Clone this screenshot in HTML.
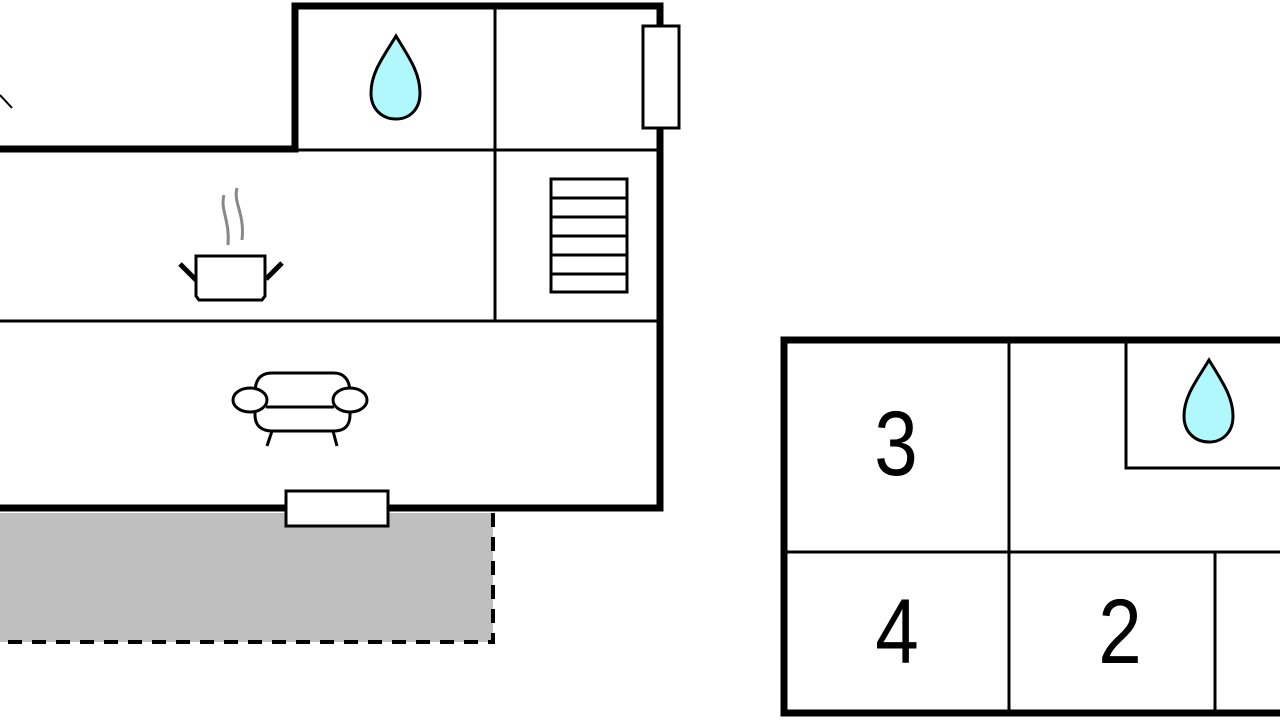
<!DOCTYPE html>
<html><head><meta charset="utf-8"><style>html,body{margin:0;padding:0;background:#fff;width:1280px;height:720px;overflow:hidden}</style></head>
<body>
<svg width="1280" height="720" viewBox="0 0 1280 720" xmlns="http://www.w3.org/2000/svg">
<rect x="0" y="513" width="493" height="129" fill="#bfbfbf"/>
<path d="M493 513 V642 H0" fill="none" stroke="#000" stroke-width="4" stroke-dasharray="14,10"/>
<g stroke="#000" fill="none">
<path d="M0 149 H295 V6 H660 V508 H0" stroke-width="7"/>
<path d="M295 150 H658 M495 6 V320 M0 321 H658" stroke-width="3"/>
<path d="M0 95 L12 108" stroke-width="2"/>
</g>
<rect x="643" y="26" width="36" height="102" fill="#fff" stroke="#000" stroke-width="3"/>
<rect x="286" y="491" width="102" height="35" fill="#fff" stroke="#000" stroke-width="3"/>
<path d="M396 36 C384 56 371 72 371 93 C371 110 383 119 396 119 C409 119 420 110 420 93 C420 72 408 56 396 36 Z" fill="#b0f8fc" stroke="#000" stroke-width="3"/>
<g stroke="#000" stroke-width="3" fill="#fff">
<rect x="551" y="179" width="76" height="113"/>
<path d="M551 198 H627 M551 217 H627 M551 236 H627 M551 255 H627 M551 274 H627"/>
</g>
<path d="M196 256 H265 V296 L262 300 H199 L196 296 Z" fill="#fff" stroke="#000" stroke-width="3"/>
<path d="M180 264 L196 280 M282 263 L266 279" stroke="#000" stroke-width="5"/>
<path d="M224 195 C220 210 230 220 228 245 M237 188 C233 203 245 213 242 240" stroke="#888" stroke-width="3" fill="none"/>
<g stroke="#000" stroke-width="3" fill="#fff">
<path d="M255 393 C255 378 262 373 272 373 H334 C344 373 350 380 350 393 V415 C350 426 344 431 334 431 H272 C262 431 255 426 255 415 Z"/>
<path d="M272 431 L267 446 M333 431 L337 446" fill="none"/>
<ellipse cx="250" cy="400" rx="17" ry="12"/>
<ellipse cx="350" cy="400" rx="17" ry="12"/>
<path d="M266 407 H334" fill="none"/>
</g>
<g stroke="#000" fill="none">
<path d="M1283 340 H784 V713 H1283" stroke-width="7"/>
<path d="M1009 340 V713 M784 552 H1280 M1215 552 V713 M1126 340 V468 H1280" stroke-width="3"/>
</g>
<path d="M1209 360 C1197 380 1184 396 1184 416 C1184 433 1196 442 1209 442 C1222 442 1233 433 1233 416 C1233 396 1221 380 1209 360 Z" fill="#b0f8fc" stroke="#000" stroke-width="3"/>
<g font-family="Liberation Sans, sans-serif" font-size="92" text-anchor="middle" fill="#000">
<text transform="translate(896 475) scale(0.85 1)">3</text>
<text transform="translate(897 663) scale(0.85 1)">4</text>
<text transform="translate(1120 663) scale(0.85 1)">2</text>
</g>
</svg>
</body></html>
